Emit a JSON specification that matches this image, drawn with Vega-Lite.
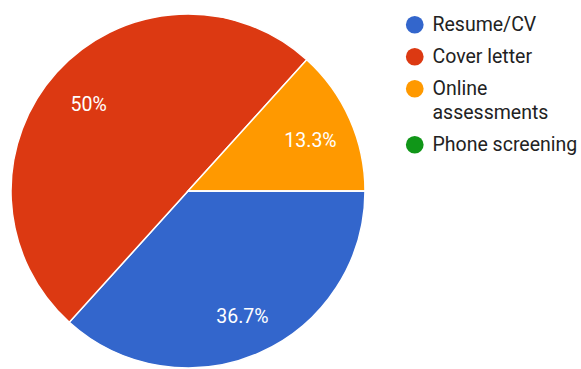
{
  "$schema": "https://vega.github.io/schema/vega-lite/v6.json",
  "width": 376,
  "height": 382,
  "padding": 0,
  "background": "white",
  "config": {
    "view": {"stroke": null},
    "font": "Roboto",
    "style": {"guide-label": {"lineHeight": 24}}
  },
  "data": {
    "values": [
      {"answer": "Resume/CV", "percent": 36.7, "label": "36.7%", "idx": 1},
      {"answer": "Cover letter", "percent": 50, "label": "50%", "idx": 2},
      {"answer": "Online assessments", "percent": 13.3, "label": "13.3%", "idx": 3},
      {"answer": "Phone screening", "percent": 0, "label": "", "idx": 4}
    ]
  },
  "encoding": {
    "theta": {"field": "percent", "type": "quantitative", "stack": true, "scale": {"range": [1.5708, 7.8540]}},
    "order": {"field": "idx", "type": "quantitative"}
  },
  "layer": [
    {
      "mark": {"type": "arc", "outerRadius": 177, "stroke": "white", "strokeWidth": 1.5},
      "encoding": {
        "color": {
          "field": "answer",
          "type": "nominal",
          "scale": {
            "domain": ["Resume/CV", "Cover letter", "Online assessments", "Phone screening"],
            "range": ["#3366cc", "#dc3912", "#ff9900", "#109618"]
          },
          "legend": {
            "title": null,
            "orient": "none",
            "legendX": 405,
            "legendY": 15,
            "padding": 0,
            "symbolType": "circle",
            "symbolSize": 314,
            "symbolStrokeWidth": 0,
            "labelFontSize": 19.5,
            "labelColor": "#222222",
            "labelOffset": 8,
            "labelLimit": 200,
            "rowPadding": 11,
            "labelExpr": "datum.label == 'Online assessments' ? ['Online', 'assessments'] : datum.label"
          }
        }
      }
    },
    {
      "mark": {"type": "text", "radius": 134, "dy": 4, "fontSize": 19.5, "color": "white"},
      "encoding": {"text": {"field": "label"}}
    }
  ]
}
